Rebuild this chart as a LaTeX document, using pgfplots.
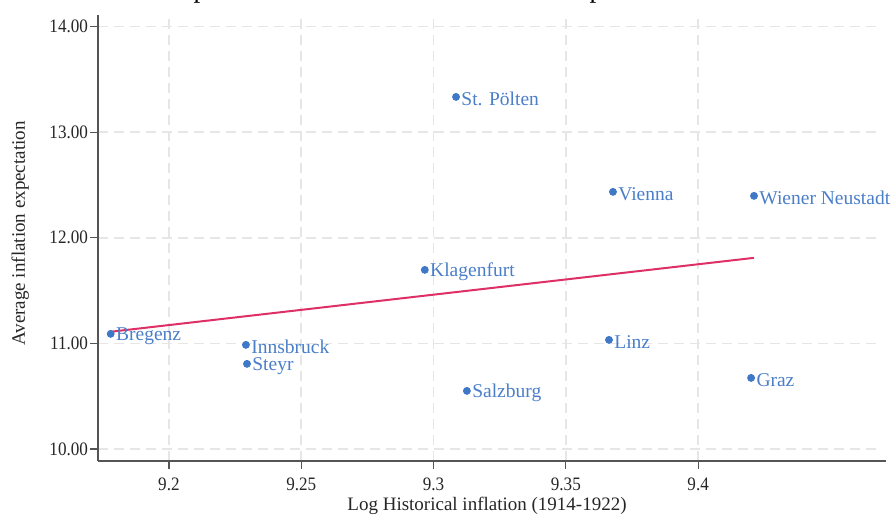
\documentclass[border=0pt]{standalone}
\usepackage{pgfplots}
\pgfplotsset{compat=1.18}
\usepackage{fontspec}
\setmainfont{Liberation Serif}
\newfontfamily\tickfont[FakeStretch=0.9]{Liberation Serif}
\definecolor{ptblue}{HTML}{3F78C6}
\definecolor{lblblue}{HTML}{4A7EC8}
\definecolor{fitred}{HTML}{DE2F66}
\definecolor{gridgray}{HTML}{E6E6E6}
\definecolor{axgray}{HTML}{555555}
\begin{document}
\begin{tikzpicture}
\useasboundingbox (0,0) rectangle (445.5pt,257.5pt);
\clip (0,0) rectangle (445.5pt,257.5pt);
\node[anchor=base, font=\fontsize{13.6}{16}\selectfont] at (242.25pt,258.5pt) {Inflation expectations and historical inflation exposure across Austrian cities};
\begin{axis}[
  at={(49pt,27pt)}, anchor=south west,
  scale only axis, width=389pt, height=223pt,
  xmin=9.1732, xmax=9.4672, ymin=9.886, ymax=14.11,
  axis lines=left, axis line style={-, axgray, line width=0.75pt},
  x axis line style={shorten >=-5pt},
  xtick={9.2,9.25,9.3,9.35,9.4},
  xticklabels={9.2,9.25,9.3,9.35,9.4},
  ytick={10,11,12,13,14},
  yticklabel={\pgfmathprintnumber[fixed,fixed zerofill,precision=2]{\tick}},
  /pgf/number format/assume math mode=true,
  tick align=outside, major tick length=4pt,
  tick style={axgray, line width=0.6pt},
  ticklabel style={font=\tickfont\fontsize{9.5}{10}\selectfont, text=black!85},
  xticklabel style={yshift=-1pt},
  yticklabel style={xshift=2.5pt},
  grid=major,
  major grid style={gridgray, line width=0.75pt, dash pattern=on 5pt off 3pt},
  xlabel={Log Historical inflation (1914-1922)},
  ylabel={Average inflation expectation},
  label style={font=\fontsize{9.5}{11}\selectfont, text=black!85},
  xlabel style={at={(axis description cs:0.5,-0.112)}, anchor=base},
  ylabel style={at={(axis description cs:-0.1,0.51)}, anchor=center},
  clip=false,
]
\addplot[fitred, line width=1pt] coordinates {(9.178,11.11) (9.4211,11.81)};
\addplot[only marks, mark=*, mark size=1.75pt, ptblue,
  nodes near coords, point meta=explicit symbolic,
  nodes near coords style={anchor=west, xshift=1.5pt, yshift=-1pt, text=lblblue, font=\fontsize{9.75}{11}\selectfont, inner sep=1pt}]
coordinates {
  (9.178,11.09) [Bregenz]
  (9.2291,10.986) [Innsbruck]
  (9.2295,10.806) [Steyr]
  (9.2967,11.696) [Klagenfurt]
  (9.3085,13.334) [St. Pölten]
  (9.3126,10.55) [Salzburg]
  (9.3663,11.033) [Linz]
  (9.3678,12.435) [Vienna]
  (9.4211,12.397) [Wiener Neustadt]
  (9.42,10.673) [Graz]
};
\end{axis}
\end{tikzpicture}
\end{document}
